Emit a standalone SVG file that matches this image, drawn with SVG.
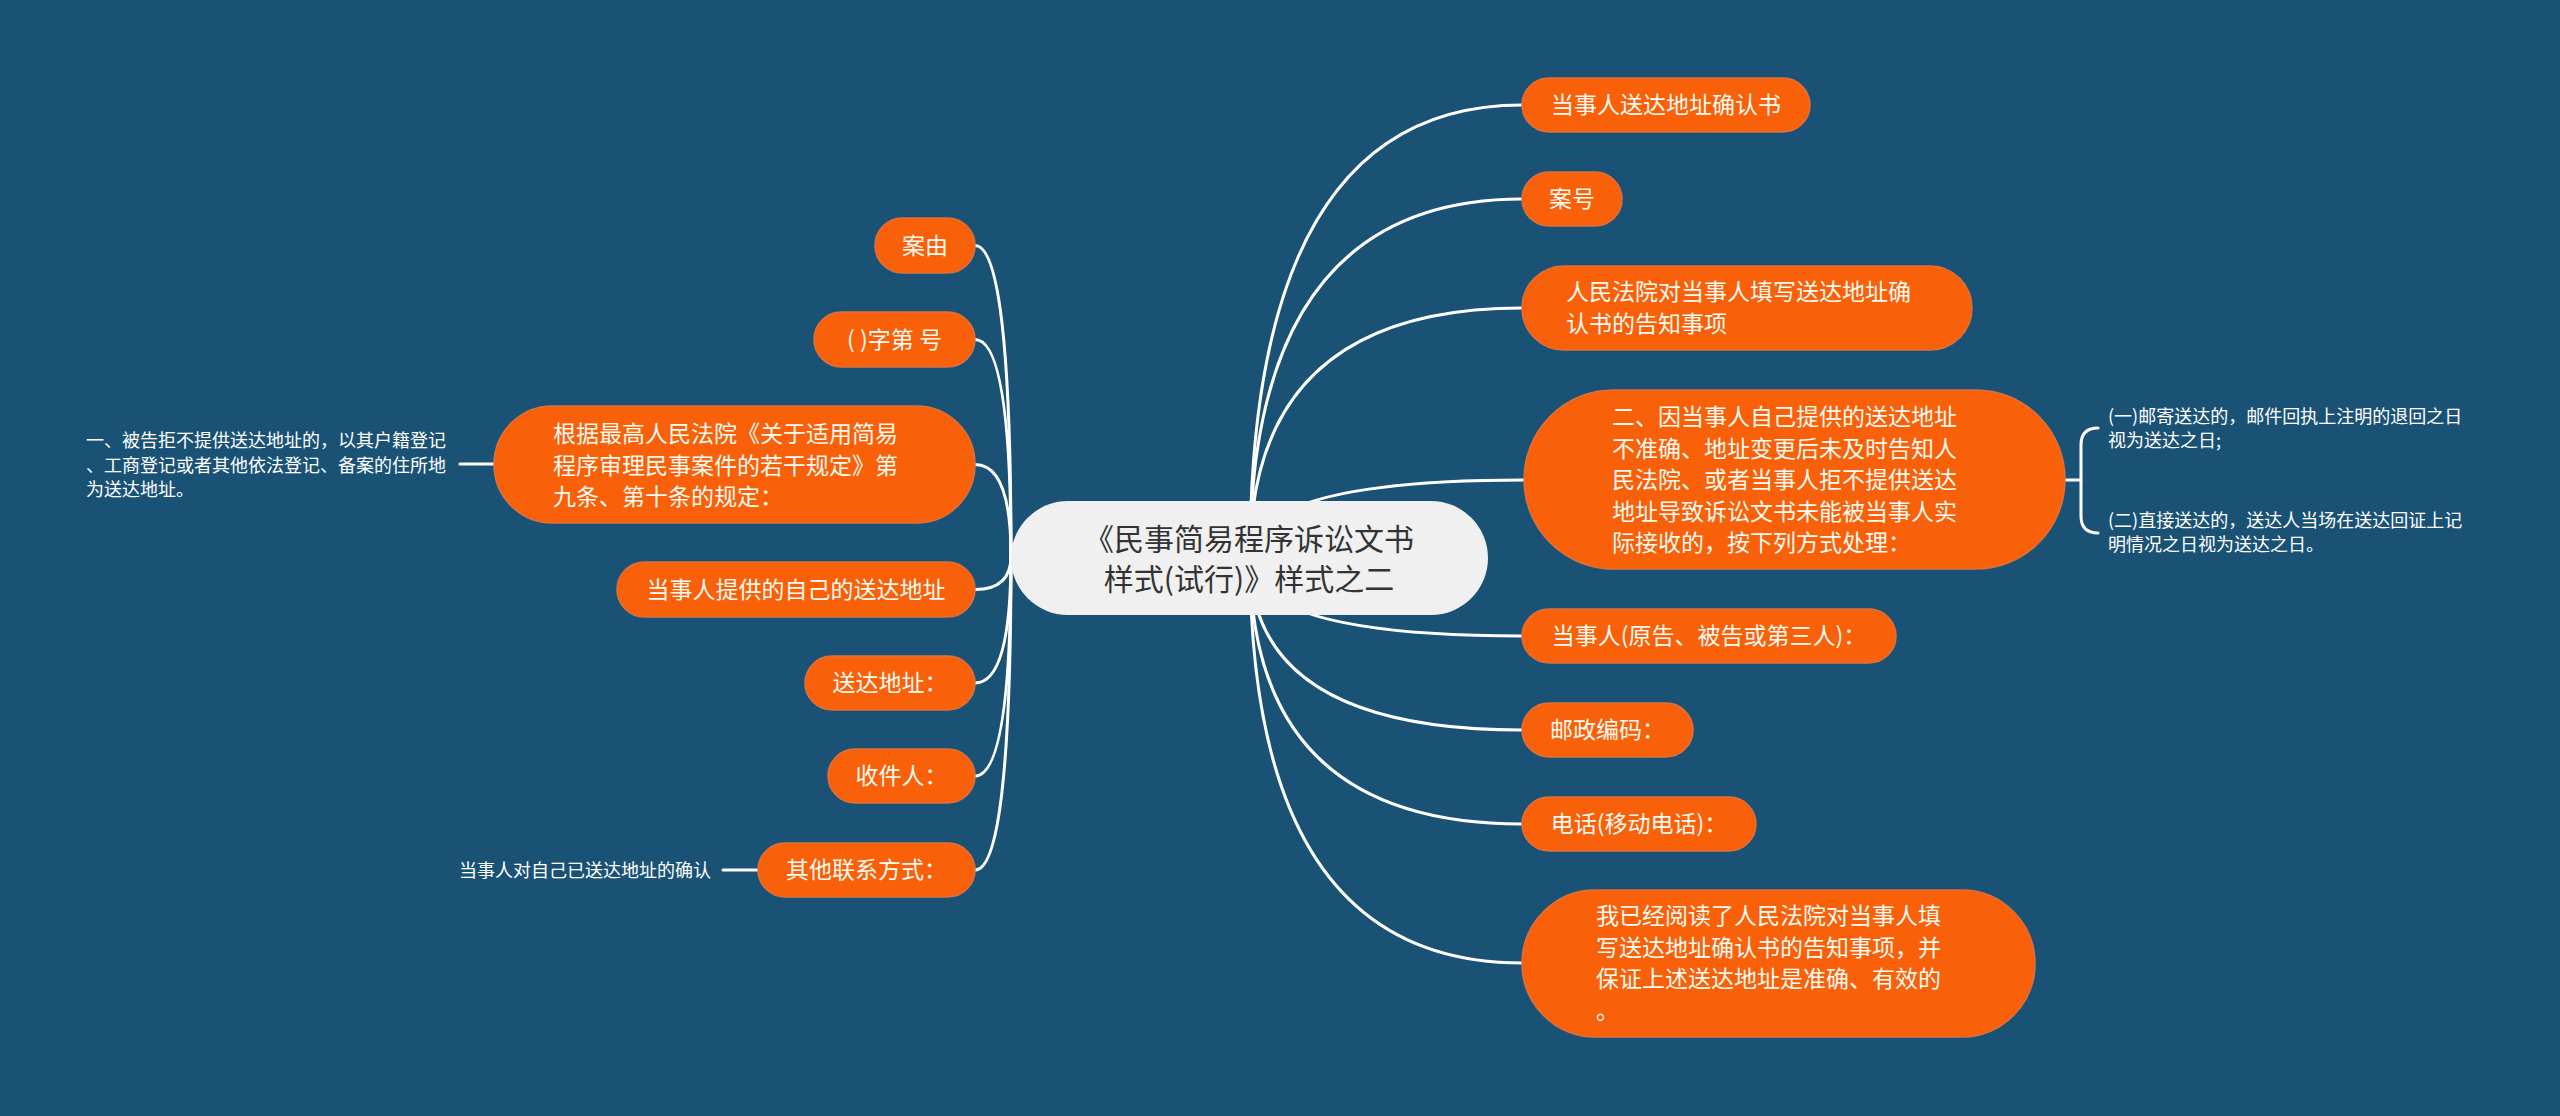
<svg xmlns="http://www.w3.org/2000/svg" width="2560" height="1116" viewBox="0 0 2560 1116">
<style>
.bg{fill:#1a5276}
.n{fill:#f8600a;stroke:#e0703a;stroke-width:1.5}
.root{fill:#f0f0f0}
.t{font-family:"Noto Sans CJK SC","Noto Sans",sans-serif;font-size:23px;fill:#fffaf0}
.tc{font-family:"Noto Sans CJK SC","Noto Sans",sans-serif;font-size:30px;fill:#333333}
.ts{font-family:"Noto Sans CJK SC","Noto Sans",sans-serif;font-size:18px;fill:#ffffff}
.m{text-anchor:middle}
.c{fill:none;stroke:#ffffff;stroke-width:3;stroke-linecap:round}
</style>
<rect class="bg" x="0" y="0" width="2560" height="1116"/>
<g id="connectors">
<path class="c" d="M1250 558 Q1250 105 1522 105"/>
<path class="c" d="M1250 558 Q1250 199 1522 199"/>
<path class="c" d="M1250 558 Q1250 308 1522 308"/>
<path class="c" d="M1250 558 Q1250 480 1524 480"/>
<path class="c" d="M1250 558 Q1250 636 1522 636"/>
<path class="c" d="M1250 558 Q1250 730 1522 730"/>
<path class="c" d="M1250 558 Q1250 824 1522 824"/>
<path class="c" d="M1250 558 Q1250 963 1522 963"/>
<path class="c" d="M1011 556 Q1011 245.5 975 245.5"/>
<path class="c" d="M1011 556 Q1011 339.5 975 339.5"/>
<path class="c" d="M1011 556 Q1011 464.5 975 464.5"/>
<path class="c" d="M1011 556 Q1011 589.5 975 589.5"/>
<path class="c" d="M1011 556 Q1011 683 975 683"/>
<path class="c" d="M1011 556 Q1011 776 975 776"/>
<path class="c" d="M1011 556 Q1011 870 975 870"/>
<path class="c" d="M460 464 L494 464"/>
<path class="c" d="M723 870 L758 870"/>
<path class="c" d="M2065 480 L2081 480"/>
<path class="c" d="M2098 428 Q2081 428 2081 445 L2081 516 Q2081 533 2098 533"/>
</g>
<g id="root">
<rect class="root" x="1011" y="501" width="477" height="114" rx="57"/>
<text class="tc m" x="1249" y="550">《民事简易程序诉讼文书</text>
<text class="tc m" x="1249" y="590">样式(试行)》样式之二</text>
</g>
<g id="r1"><rect class="n" x="1522" y="78" width="288" height="54" rx="27"/><text class="t m" x="1666" y="113">当事人送达地址确认书</text></g>
<g id="r2"><rect class="n" x="1522" y="172" width="100" height="54" rx="27"/><text class="t m" x="1572" y="207">案号</text></g>
<g id="r3"><rect class="n" x="1522" y="266" width="450" height="84" rx="42"/>
<text class="t" x="1566" y="300">人民法院对当事人填写送达地址确</text>
<text class="t" x="1566" y="332">认书的告知事项</text></g>
<g id="r4"><rect class="n" x="1524" y="390" width="541" height="179" rx="89.5"/>
<text class="t" x="1612" y="425">二、因当事人自己提供的送达地址</text>
<text class="t" x="1612" y="456.5">不准确、地址变更后未及时告知人</text>
<text class="t" x="1612" y="488">民法院、或者当事人拒不提供送达</text>
<text class="t" x="1612" y="519.5">地址导致诉讼文书未能被当事人实</text>
<text class="t" x="1612" y="551">际接收的，按下列方式处理：</text></g>
<g id="r4a"><text class="ts" x="2108" y="423">(一)邮寄送达的，邮件回执上注明的退回之日</text><text class="ts" x="2108" y="447">视为送达之日;</text></g>
<g id="r4b"><text class="ts" x="2108" y="527">(二)直接送达的，送达人当场在送达回证上记</text><text class="ts" x="2108" y="551">明情况之日视为送达之日。</text></g>
<g id="r5"><rect class="n" x="1522" y="609" width="374" height="54" rx="27"/><text class="t m" x="1709" y="644">当事人(原告、被告或第三人)：</text></g>
<g id="r6"><rect class="n" x="1522" y="703" width="171" height="54" rx="27"/><text class="t m" x="1607.5" y="738">邮政编码：</text></g>
<g id="r7"><rect class="n" x="1522" y="797" width="234" height="54" rx="27"/><text class="t m" x="1639" y="832">电话(移动电话)：</text></g>
<g id="r8"><rect class="n" x="1522" y="890" width="513" height="147" rx="73.5"/>
<text class="t" x="1596" y="924">我已经阅读了人民法院对当事人填</text>
<text class="t" x="1596" y="955.5">写送达地址确认书的告知事项，并</text>
<text class="t" x="1596" y="987">保证上述送达地址是准确、有效的</text>
<text class="t" x="1596" y="1018.5">。</text></g>
<g id="l1"><rect class="n" x="875" y="218" width="100" height="55" rx="27.5"/><text class="t m" x="925" y="254">案由</text></g>
<g id="l2"><rect class="n" x="814" y="312" width="161" height="55" rx="27.5"/><text class="t m" x="894.5" y="348">( )字第 号</text></g>
<g id="l3"><rect class="n" x="494" y="406" width="481" height="117" rx="58.5"/>
<text class="t" x="553" y="442">根据最高人民法院《关于适用简易</text>
<text class="t" x="553" y="473.5">程序审理民事案件的若干规定》第</text>
<text class="t" x="553" y="505">九条、第十条的规定：</text></g>
<g id="l3a"><text class="ts" x="86" y="447">一、被告拒不提供送达地址的，以其户籍登记</text><text class="ts" x="86" y="471.5">、工商登记或者其他依法登记、备案的住所地</text><text class="ts" x="86" y="496">为送达地址。</text></g>
<g id="l4"><rect class="n" x="617" y="562" width="358" height="55" rx="27.5"/><text class="t m" x="796" y="598">当事人提供的自己的送达地址</text></g>
<g id="l5"><rect class="n" x="805" y="656" width="170" height="54" rx="27"/><text class="t m" x="890" y="691">送达地址：</text></g>
<g id="l6"><rect class="n" x="828" y="749" width="147" height="54" rx="27"/><text class="t m" x="901.5" y="784">收件人：</text></g>
<g id="l7"><rect class="n" x="758" y="843" width="217" height="54" rx="27"/><text class="t m" x="866.5" y="878">其他联系方式：</text></g>
<g id="l7a"><text class="ts" x="459" y="877">当事人对自己已送达地址的确认</text></g>
</svg>
